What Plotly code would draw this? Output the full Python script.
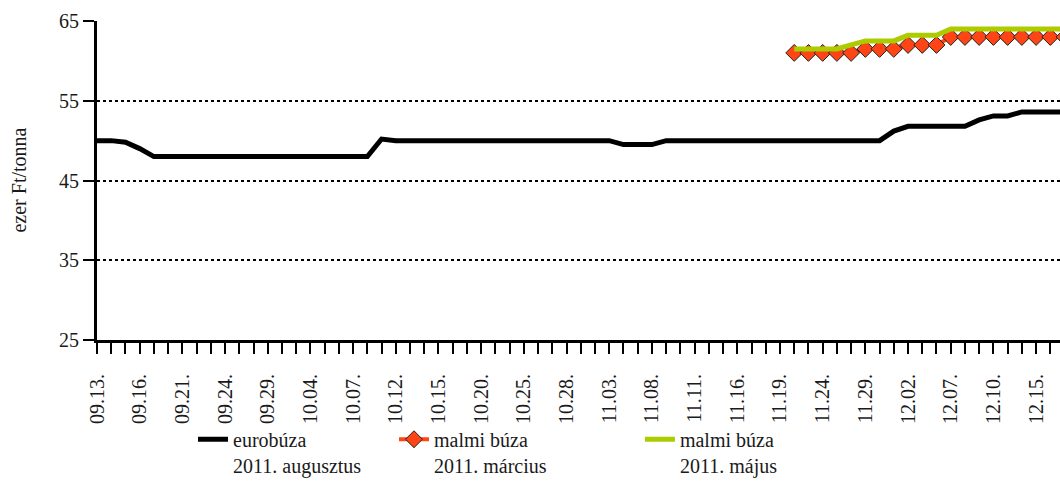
import plotly.graph_objects as go

dates = ["09.13.", "09.14.", "09.15.", "09.16.", "09.17.", "09.20.", "09.21.", "09.22.", "09.23.", "09.24.",
         "09.27.", "09.28.", "09.29.", "09.30.", "10.01.", "10.04.", "10.05.", "10.06.", "10.07.", "10.08.",
         "10.11.", "10.12.", "10.13.", "10.14.", "10.15.", "10.18.", "10.19.", "10.20.", "10.21.", "10.22.",
         "10.25.", "10.26.", "10.27.", "10.28.", "10.29.", "11.02.", "11.03.", "11.04.", "11.05.", "11.08.",
         "11.09.", "11.10.", "11.11.", "11.12.", "11.15.", "11.16.", "11.17.", "11.18.", "11.19.", "11.22.",
         "11.23.", "11.24.", "11.25.", "11.26.", "11.29.", "11.30.", "12.01.", "12.02.", "12.03.", "12.06.",
         "12.07.", "12.08.", "12.09.", "12.10.", "12.13.", "12.14.", "12.15.", "12.16.", "12.17."]

eurobuza_aug = [50, 50, 49.8, 49, 48, 48, 48, 48, 48, 48,
                48, 48, 48, 48, 48, 48, 48, 48, 48, 48,
                50.2, 50, 50, 50, 50, 50, 50, 50, 50, 50,
                50, 50, 50, 50, 50, 50, 50, 49.5, 49.5, 49.5,
                50, 50, 50, 50, 50, 50, 50, 50, 50, 50,
                50, 50, 50, 50, 50, 50, 51.2, 51.8, 51.8, 51.8,
                51.8, 51.8, 52.6, 53.1, 53.1, 53.6, 53.6, 53.6, 53.6]

malmi_marc = [None] * 49 + [61.0, 61.0, 61.0, 61.0, 61.0, 61.5, 61.5, 61.5, 62.0, 62.0,
                            62.0, 63.0, 63.0, 63.0, 63.0, 63.0, 63.0, 63.0, 63.0, 63.0]

malmi_maj = [None] * 49 + [61.5, 61.5, 61.5, 61.5, 62.0, 62.5, 62.5, 62.5, 63.2, 63.2,
                           63.2, 64.0, 64.0, 64.0, 64.0, 64.0, 64.0, 64.0, 64.0, 64.0]

tick_text = [d if i % 3 == 0 else "" for i, d in enumerate(dates)]

FONT = "Liberation Serif, Times New Roman, DejaVu Serif, serif"
TXT = "#1a1a1a"

fig = go.Figure()
fig.add_trace(go.Scatter(x=dates, y=eurobuza_aug, mode="lines", name="eurobúza<br>2011. augusztus",
                         line=dict(color="black", width=5), legend="legend"))
fig.add_trace(go.Scatter(x=dates, y=malmi_marc, mode="lines+markers", name="malmi búza<br>2011. március",
                         line=dict(color="#FF4515", width=4),
                         marker=dict(symbol="diamond", size=13, color="#FF4515",
                                     line=dict(color="#222222", width=1)),
                         legend="legend2"))
fig.add_trace(go.Scatter(x=dates, y=malmi_maj, mode="lines", name="malmi búza<br>2011. május",
                         line=dict(color="#ADCC00", width=5), legend="legend3"))

leg_common = dict(orientation="h", yanchor="top", y=-0.25, xanchor="left",
                  font=dict(family=FONT, size=20, color=TXT), valign="top",
                  bgcolor="rgba(0,0,0,0)", borderwidth=0)

fig.update_layout(
    width=1060, height=485,
    margin=dict(l=97, r=0, t=21, b=137),
    paper_bgcolor="white", plot_bgcolor="white",
    font=dict(family=FONT, size=20, color=TXT),
    showlegend=True,
    legend=dict(x=0.0997, **leg_common),
    legend2=dict(x=0.3084, **leg_common),
    legend3=dict(x=0.5638, **leg_common),
    xaxis=dict(type="category", range=[0, 67.68], tickmode="array", tickvals=dates, ticktext=tick_text,
               tickangle=-90, ticks="outside", ticklen=11, tickwidth=2, tickcolor="black",
               ticklabelstandoff=12,
               showline=True, linecolor="black", linewidth=3, showgrid=False, zeroline=False,
               tickfont=dict(family=FONT, size=20, color=TXT), automargin=False),
    yaxis=dict(range=[25, 65], tickmode="linear", tick0=25, dtick=10,
               ticks="outside", ticklen=11, tickwidth=2, tickcolor="black",
               showline=True, linecolor="black", linewidth=3,
               showgrid=True, gridcolor="black", gridwidth=2, griddash="dot", zeroline=False,
               tickfont=dict(family=FONT, size=20, color=TXT), automargin=False),
    annotations=[dict(text="ezer Ft/tonna", xref="paper", yref="paper", x=-0.082, y=0.5,
                      textangle=-90, showarrow=False, font=dict(family=FONT, size=20, color=TXT),
                      xanchor="center", yanchor="middle")],
)

fig.write_html("out.html", config={"responsive": False, "displayModeBar": False},
               post_script="document.body.style.margin='0';document.body.style.overflow='hidden';")
